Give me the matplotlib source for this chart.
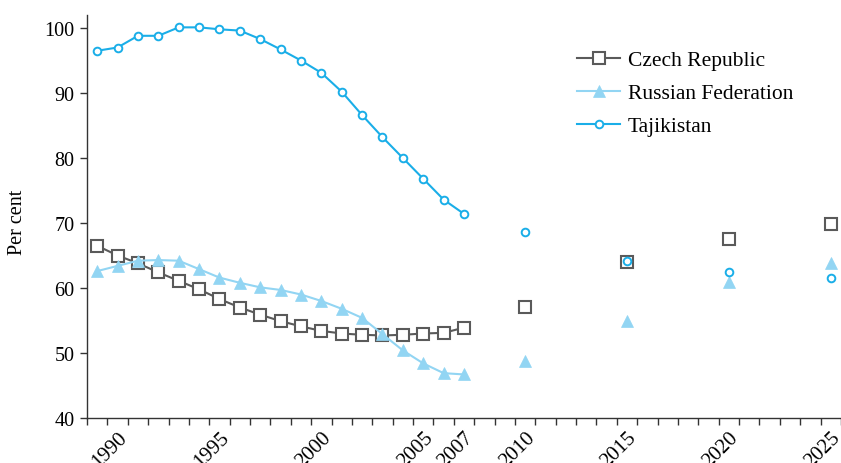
import matplotlib
matplotlib.use("Agg")
import matplotlib.pyplot as plt
import numpy as np

plt.rcParams['font.family'] = ['Liberation Serif', 'DejaVu Serif']

years_hist = list(range(1989, 2008))
years_proj = [2010, 2015, 2020, 2025]

czech_hist = [66.5, 65.0, 63.8, 62.4, 61.1, 59.8, 58.3, 57.0, 55.9, 54.9, 54.1,
              53.4, 53.0, 52.8, 52.7, 52.8, 53.0, 53.1, 53.9]
russia_hist = [62.6, 63.4, 64.2, 64.3, 64.2, 62.9, 61.6, 60.8, 60.1, 59.7, 59.0,
               58.0, 56.8, 55.4, 52.9, 50.4, 48.4, 46.9, 46.7]
tajik_hist = [96.5, 97.0, 98.8, 98.8, 100.1, 100.1, 99.8, 99.6, 98.3, 96.7, 95.0,
              93.1, 90.2, 86.6, 83.2, 80.0, 76.8, 73.6, 71.4]

czech_proj = [57.1, 64.0, 67.5, 69.8]
russia_proj = [48.7, 55.0, 61.0, 63.9]
tajik_proj = [68.6, 64.2, 62.5, 61.6]

tick_years = [1990, 1995, 2000, 2005, 2007, 2010, 2015, 2020, 2025]
tick_labels = [str(y) for y in tick_years]

c_czech = '#5a5a5a'
c_russia = '#92d5f3'
c_tajik = '#1aaee8'

fig = plt.figure(figsize=(8.41, 4.64), dpi=100)
ax = fig.add_axes([87/841, 1-419/464, 1-87/841, (419-16)/464])

czech_style = dict(color=c_czech, marker='s', markersize=8.5, markerfacecolor='white',
                   markeredgecolor=c_czech, markeredgewidth=1.5, lw=1.5)
russia_style = dict(color=c_russia, marker='^', markersize=8.5, markerfacecolor=c_russia,
                    markeredgecolor=c_russia, markeredgewidth=0.5, lw=1.5)
tajik_style = dict(color=c_tajik, marker='o', markersize=5.5, markerfacecolor='white',
                   markeredgecolor=c_tajik, markeredgewidth=1.4, lw=1.5)

ax.plot(years_hist, czech_hist, label='Czech Republic', zorder=3, clip_on=False, **czech_style)
ax.plot(years_hist, russia_hist, label='Russian Federation', zorder=4, clip_on=False, **russia_style)
ax.plot(years_hist, tajik_hist, label='Tajikistan', zorder=5, clip_on=False, **tajik_style)

ax.plot(years_proj, czech_proj, linestyle='none', zorder=3, clip_on=False, **{k: v for k, v in czech_style.items() if k != 'lw'})
ax.plot(years_proj, russia_proj, linestyle='none', zorder=4, clip_on=False, **{k: v for k, v in russia_style.items() if k != 'lw'})
ax.plot(years_proj, tajik_proj, linestyle='none', zorder=5, clip_on=False, **{k: v for k, v in tajik_style.items() if k != 'lw'})

ax.set_xlim(1988.5, 1988.5 + 754/20.6)
ax.set_ylim(40, 102)

ax.set_xticks(tick_years)
ax.set_xticklabels(tick_labels, rotation=45, ha='right', va='top', rotation_mode='anchor',
                   fontsize=15)
ax.set_xticks(np.arange(1988.5, 2025.6, 1), minor=True)
ax.tick_params(axis='x', which='major', length=0, pad=7)
ax.tick_params(axis='x', which='minor', length=5, width=1, color='#333333', direction='out')

ax.set_yticks(np.arange(40, 101, 10))
ax.tick_params(axis='y', which='major', length=5, width=1, color='#333333', direction='out',
               labelsize=14.5, pad=4)

for s in ['top', 'right']:
    ax.spines[s].set_visible(False)
for s in ['left', 'bottom']:
    ax.spines[s].set_color('#333333')
    ax.spines[s].set_linewidth(1.0)

fig.text(18/841, 1-222/464, 'Per cent', rotation=90, ha='center', va='center', fontsize=14.5)

ax.legend(loc='upper left', bbox_to_anchor=(577/841, 1-51/464), bbox_transform=fig.transFigure,
          frameon=False, fontsize=15.5, borderpad=0, borderaxespad=0, handlelength=2.0,
          handletextpad=0.35, labelspacing=0.6)

fig.savefig('out.png', dpi=100)
